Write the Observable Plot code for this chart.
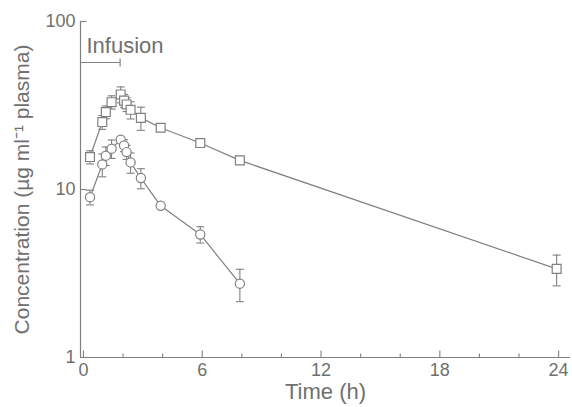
<!DOCTYPE html>
<html>
<head>
<meta charset="utf-8">
<script src="https://cdn.jsdelivr.net/npm/d3@7"></script>
<script src="https://cdn.jsdelivr.net/npm/@observablehq/plot@0.6"></script>
<style>
  html, body { margin: 0; padding: 0; background: #fff; }
  #chart svg { display: block; }
</style>
</head>
<body>
<div id="chart"></div>
<script>
// ---- data ----
const times       = [0.33, 0.95, 1.13, 1.42, 1.88, 2.05, 2.18, 2.38, 2.9, 3.9, 5.9, 7.9, 23.9];
const squareMean  = [15.6, 25.2, 28.9, 33.1, 36.8, 33.8, 32.1, 29.8, 26.7, 23.3, 18.9, 14.9, 3.37];
const squareSD    = [1.4, 2.4, 2.5, 3.0, 4.0, 3.0, 3.0, 3.5, 4.2, 0, 0, 0, 0.7];
const circleMean  = [9.0, 14.1, 15.9, 17.5, 19.8, 18.3, 16.7, 14.5, 11.7, 8.0, 5.4, 2.75, null];
const circleSD    = [0.9, 2.2, 2.0, 2.2, 0, 1.5, 1.6, 2.0, 1.6, 0, 0.6, 0.6, null];
const xTicks      = [0, 6, 12, 18, 24];
const xMinorTicks = [2, 4, 8, 10, 14, 16, 20, 22];
const yTicks      = [1, 10, 100];
const infusionEnd = 1.85;
const xTitle = "Time (h)";
const yTitle = "Concentration (µg ml⁻¹ plasma)";
const infusionLabel = "Infusion";

// ---- build tables ----
const squares = times.map((t, i) => ({t, v: squareMean[i], sd: squareSD[i]}));
const circles = times.map((t, i) => ({t, v: circleMean[i], sd: circleSD[i]})).filter(d => d.v != null);
const bars = [...squares, ...circles].filter(d => d.sd > 0);

const col = "#808080";
const txt = "#707070";
const xDomain = [-0.15, 24.6];

const hCap = {draw(ctx) { ctx.moveTo(-4, 0); ctx.lineTo(4, 0); }};
const vTickUp = {draw(ctx) { ctx.moveTo(0, 0); ctx.lineTo(0, -7); }};
const vTickUpMinor = {draw(ctx) { ctx.moveTo(0, 0); ctx.lineTo(0, -4); }};
const hTickRight = {draw(ctx) { ctx.moveTo(0, 0); ctx.lineTo(6, 0); }};
const vCap = {draw(ctx) { ctx.moveTo(0, -4); ctx.lineTo(0, 4); }};

const chart = Plot.plot({
  width: 572,
  height: 407,
  marginLeft: 80,
  marginRight: 2,
  marginTop: 21,
  marginBottom: 50,
  style: {fontFamily: "'Liberation Sans', Arial, Helvetica, sans-serif", color: txt, background: "#fff"},
  x: {domain: xDomain},
  y: {type: "log", domain: [1, 100]},
  marks: [
    // axis lines
    Plot.ruleY([1], {stroke: col, strokeWidth: 1.2}),
    Plot.ruleX([xDomain[0]], {stroke: col, strokeWidth: 1.2}),
    // inward ticks
    Plot.dot(xTicks, {x: d => d, y: () => 1, symbol: vTickUp, stroke: col, strokeWidth: 1.1, fill: "none"}),
    Plot.dot(xMinorTicks, {x: d => d, y: () => 1, symbol: vTickUpMinor, stroke: col, strokeWidth: 1.1, fill: "none"}),
    Plot.dot(yTicks, {x: () => xDomain[0], y: d => d, symbol: hTickRight, stroke: col, strokeWidth: 1.1, fill: "none"}),
    Plot.axisX({ticks: xTicks, tickSize: 0, tickPadding: 6, fontSize: 18, label: null, tickFormat: d => String(d)}),
    Plot.axisY({ticks: yTicks, tickSize: 0, tickPadding: 5, fontSize: 18, label: null, tickFormat: d => String(d)}),
    // titles
    Plot.text([xTitle], {frameAnchor: "bottom", dy: 34, lineAnchor: "middle", fontSize: 22, fill: txt}),
    Plot.text([yTitle], {frameAnchor: "left", rotate: -90, dx: -58, textAnchor: "middle", lineAnchor: "middle", fontSize: 21, fill: txt}),
    // infusion bracket
    Plot.ruleY([100], {x1: xDomain[0], x2: infusionEnd, dy: 41, stroke: col, strokeWidth: 1.2}),
    Plot.dot([infusionEnd], {x: d => d, y: () => 100, dy: 41, symbol: vCap, stroke: col, strokeWidth: 1.2, fill: "none"}),
    Plot.text([infusionLabel], {frameAnchor: "top-left", dx: 6, dy: 24, lineAnchor: "middle", textAnchor: "start", fontSize: 22, fill: txt}),
    // series lines
    Plot.line(squares, {x: "t", y: "v", stroke: col, strokeWidth: 1.2}),
    Plot.line(circles, {x: "t", y: "v", stroke: col, strokeWidth: 1.2}),
    // error bars
    Plot.ruleX(bars, {x: "t", y1: d => d.v - d.sd, y2: d => d.v + d.sd, stroke: col, strokeWidth: 1.1}),
    Plot.dot(bars, {x: "t", y: d => d.v + d.sd, symbol: hCap, stroke: col, strokeWidth: 1.1, fill: "none"}),
    Plot.dot(bars, {x: "t", y: d => d.v - d.sd, symbol: hCap, stroke: col, strokeWidth: 1.1, fill: "none"}),
    // markers
    Plot.dot(squares, {x: "t", y: "v", symbol: "square", r: 5, fill: "#fff", stroke: col, strokeWidth: 1.2}),
    Plot.dot(circles, {x: "t", y: "v", symbol: "circle", r: 4.6, fill: "#fff", stroke: col, strokeWidth: 1.2})
  ]
});
document.getElementById("chart").appendChild(chart);
</script>
</body>
</html>
